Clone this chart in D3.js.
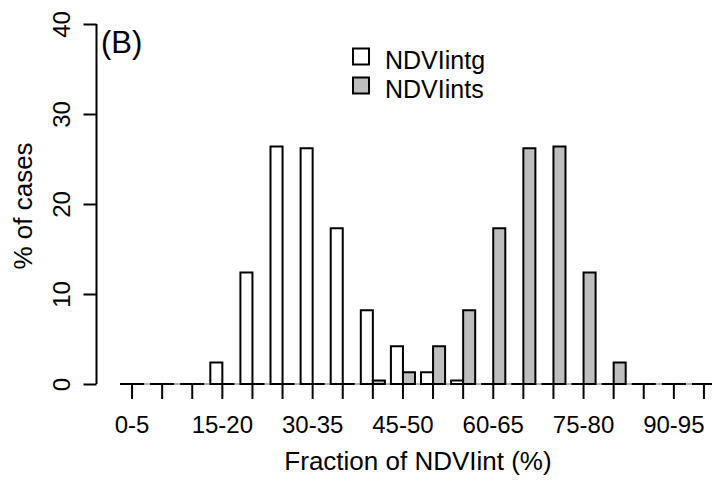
<!DOCTYPE html>
<html>
<head>
<meta charset="utf-8">
<script src="https://cdn.jsdelivr.net/npm/d3@7"></script>
<style>
  html, body { margin: 0; padding: 0; background: #fff; }
  svg { display: block; font-family: "Liberation Sans", Arial, Helvetica, sans-serif; }
</style>
</head>
<body>
<svg id="chart" width="712" height="481"></svg>
<script>
// 5 % classes of the NDVIint fraction
const categories = ["0-5", "5-10", "10-15", "15-20", "20-25", "25-30", "30-35", "35-40",
  "40-45", "45-50", "50-55", "55-60", "60-65", "65-70", "70-75", "75-80",
  "80-85", "85-90", "90-95", "95-100"];

// % of cases per class
const ndviIntg = [0, 0, 0, 2.4, 12.4, 26.4, 26.2, 17.3, 8.2, 4.2, 1.3, 0.4, 0, 0, 0, 0, 0, 0, 0, 0];
const ndviInts = [0, 0, 0, 0, 0, 0, 0, 0, 0.4, 1.3, 4.2, 8.2, 17.3, 26.2, 26.4, 12.4, 2.4, 0, 0, 0];

const seriesNames = ["NDVIintg", "NDVIints"];
const seriesFill = ["#ffffff", "#bebebe"];

const yTicks = [0, 10, 20, 30, 40];
// only every third class label fits under the axis
const xLabelStep = 3;

const svg = d3.select("#chart");

const x = d3.scaleBand()
  .domain(categories)
  .range([117, 719])
  .paddingInner(0.2)
  .paddingOuter(0.1);

const xInner = d3.scaleBand()
  .domain(seriesNames)
  .range([0, x.bandwidth()])
  .padding(0);

const y = d3.scaleLinear().domain([0, 40]).range([384, 24]);

// faint zero line running under the bars
const firstCat = categories[0], lastCat = categories[categories.length - 1];
svg.append("line")
  .attr("x1", x(firstCat)).attr("x2", x(lastCat) + x.bandwidth())
  .attr("y1", y(0)).attr("y2", y(0))
  .attr("stroke", "#9a9a9a").attr("stroke-width", 1.6);

// bars as closed outlines, so empty classes still show as a flat line
const rows = categories.map((c, i) => ({ cat: c, values: [ndviIntg[i], ndviInts[i]] }));

const groups = svg.append("g").selectAll("g")
  .data(rows)
  .join("g")
  .attr("transform", d => `translate(${x(d.cat)},0)`);

groups.selectAll("path")
  .data(d => d.values.map((v, k) => ({ v, k })))
  .join("path")
  .attr("d", d => {
    const x0 = xInner(seriesNames[d.k]);
    const x1 = x0 + xInner.bandwidth();
    return `M${x0},${y(0)}V${y(d.v)}H${x1}V${y(0)}Z`;
  })
  .attr("fill", d => seriesFill[d.k])
  .attr("stroke", "#000")
  .attr("stroke-width", 2)
  .attr("stroke-linejoin", "miter");

// y axis
const yAxis = svg.append("g")
  .attr("transform", "translate(96.5,0)")
  .call(d3.axisLeft(y).tickValues(yTicks).tickSize(13).tickSizeOuter(0));
yAxis.select(".domain").attr("stroke", "#000").attr("stroke-width", 2)
  .attr("d", `M0,${y(0)}V${y(40)}`);
yAxis.selectAll(".tick line").attr("stroke", "#000").attr("stroke-width", 2);
yAxis.selectAll(".tick text")
  .attr("transform", "rotate(-90)")
  .attr("x", 0).attr("y", -27).attr("dy", 0)
  .attr("text-anchor", "middle")
  .attr("font-size", 24)
  .attr("font-family", "Liberation Sans, Arial, sans-serif")
  .attr("fill", "#000");

// x axis: ticks at class centres, no axis line
const xAxis = svg.append("g")
  .attr("transform", `translate(0,${y(0)})`)
  .call(d3.axisBottom(x).tickSize(15).tickSizeOuter(0)
    .tickFormat((d, i) => (i % xLabelStep === 0 ? d : "")));
xAxis.select(".domain").remove();
xAxis.selectAll(".tick line").attr("stroke", "#000").attr("stroke-width", 2);
xAxis.selectAll(".tick text")
  .attr("y", 49).attr("dy", 0)
  .attr("font-size", 24)
  .attr("font-family", "Liberation Sans, Arial, sans-serif")
  .attr("fill", "#000");

// axis titles
svg.append("text")
  .attr("x", 418).attr("y", 470)
  .attr("text-anchor", "middle")
  .attr("font-size", 26)
  .text("Fraction of NDVIint (%)");

svg.append("text")
  .attr("transform", "translate(32,206) rotate(-90)")
  .attr("text-anchor", "middle")
  .attr("font-size", 26)
  .text("% of cases");

// panel tag
svg.append("text")
  .attr("x", 101).attr("y", 52.5)
  .attr("font-size", 31)
  .text("(B)");

// legend
const legend = svg.append("g");
seriesNames.forEach((name, k) => {
  legend.append("rect")
    .attr("x", 353).attr("y", 48.5 + k * 29)
    .attr("width", 16).attr("height", 16)
    .attr("fill", seriesFill[k])
    .attr("stroke", "#000").attr("stroke-width", 2);
  legend.append("text")
    .attr("x", 385).attr("y", 68.5 + k * 29.3)
    .attr("font-size", 25)
    .text(name);
});
</script>
</body>
</html>
